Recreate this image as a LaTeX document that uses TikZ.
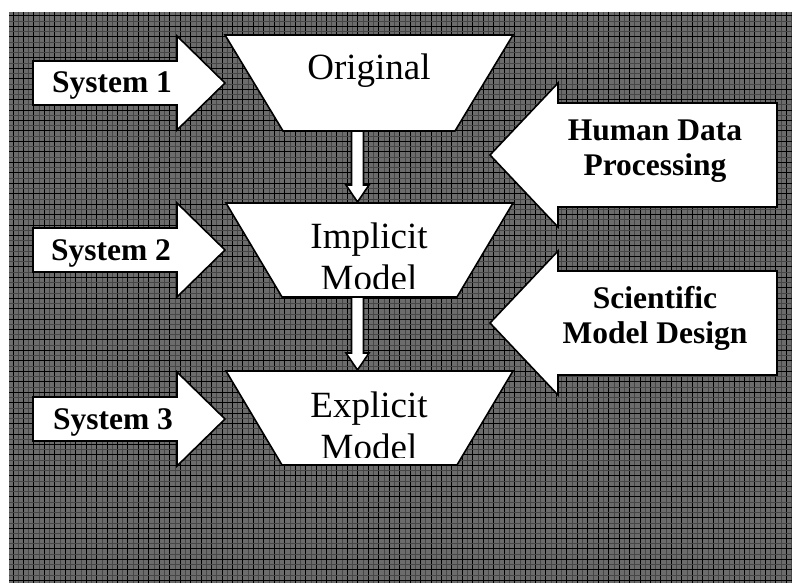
\documentclass[tikz,border=0pt]{standalone}
\usepackage{fontspec}
\setmainfont{Liberation Serif}
\definecolor{bggray}{RGB}{108,108,108}
\definecolor{bgmid}{RGB}{70,70,70}
\begin{document}
\begin{tikzpicture}[x=1pt,y=-1pt,
  shp/.style={fill=white,draw=black,line width=1.6pt,line join=miter},
  btxt/.style={font=\fontsize{31.5}{35}\selectfont\bfseries,anchor=base,inner sep=0pt},
  rtxt/.style={font=\fontsize{37}{42}\selectfont,anchor=base,inner sep=0pt}]
\useasboundingbox (0,0) rectangle (792,583);
% background pattern
\fill[bggray] (9,12) rectangle (792,583);
\begin{scope}
\clip (9,12) rectangle (792,583);
\foreach \i in {0,...,75} {
  \draw[bgmid,line width=0.6pt] ({9+9.2+10.45*\i},12) -- ++(0,571);
  \draw[black,line width=1pt] ({9+4+10.45*\i},12) -- ++(0,571);
}
\foreach \i in {0,...,55} {
  \draw[bgmid,line width=0.6pt] (9,{12+9.2+10.45*\i}) -- ++(783,0);
  \draw[black,line width=1pt] (9,{12+4+10.45*\i}) -- ++(783,0);
}
\end{scope}
% vertical arrows between the stages
\coordinate (a1s) at (357.5,131);
\coordinate (a1t) at (357.5,202);
\coordinate (a2s) at (357.5,297);
\coordinate (a2t) at (357.5,370);
\draw[shp] ([xshift=-6pt]a1s) -- ([xshift=-6pt,yshift=17pt]a1t) -- ([xshift=-11.5pt,yshift=17pt]a1t) -- (a1t)
  -- ([xshift=11.5pt,yshift=17pt]a1t) -- ([xshift=6pt,yshift=17pt]a1t) -- ([xshift=6pt]a1s) -- cycle;
\draw[shp] ([xshift=-6pt]a2s) -- ([xshift=-6pt,yshift=17pt]a2t) -- ([xshift=-11.5pt,yshift=17pt]a2t) -- (a2t)
  -- ([xshift=11.5pt,yshift=17pt]a2t) -- ([xshift=6pt,yshift=17pt]a2t) -- ([xshift=6pt]a2s) -- cycle;
% trapezoids
\draw[shp] (225,35) -- (513,35) -- (455,131) -- (283,131) -- cycle;
\draw[shp] (226,203) -- (513,203) -- (457,297) -- (282,297) -- cycle;
\draw[shp] (226,371) -- (513,371) -- (457,465) -- (282,465) -- cycle;
\node[rtxt] (orig) at (369,80) {Original};
\node[rtxt] (impl) at (369,248) {Implicit};
\node[rtxt] (expl) at (369,417) {Explicit};
\begin{scope}
\clip (226,203) rectangle (513,288);
\node[rtxt] (implm) at (369,290) {Model};
\end{scope}
\begin{scope}
\clip (226,371) rectangle (513,457);
\node[rtxt] (explm) at (369,459) {Model};
\end{scope}
% system arrows (pointing right)
\foreach \c/\n in {83/1,250/2,419/3} {
  \draw[shp] (33,\c-22) -- (177,\c-22) -- (177,\c-47) -- (225,\c) -- (177,\c+47) -- (177,\c+22) -- (33,\c+22) -- cycle;
}
\node[btxt] (s1) at (112,93) {System 1};
\node[btxt] (s2) at (111,260) {System 2};
\node[btxt] (s3) at (113,429) {System 3};
% process arrows (pointing left)
\foreach \c in {155,323} {
  \draw[shp] (777,\c-52) -- (558,\c-52) -- (558,\c-72) -- (490,\c) -- (558,\c+72) -- (558,\c+52) -- (777,\c+52) -- cycle;
}
\node[btxt] (hdp1) at (655,140) {Human Data};
\node[btxt] (hdp2) at (655,175) {Processing};
\node[btxt] (smd1) at (655,308) {Scientific};
\node[btxt] (smd2) at (655,343) {Model Design};
\end{tikzpicture}
\end{document}
